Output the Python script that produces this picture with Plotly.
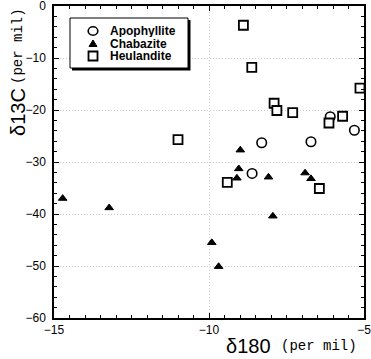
import plotly.graph_objects as go

# ---- data ----
apo_x = [-6.09, -5.31, -6.71, -8.30, -8.61]
apo_y = [-21.3, -23.9, -26.1, -26.3, -32.2]

cha_x = [-14.72, -13.22, -8.99, -9.04, -9.10, -8.08, -6.90, -6.71, -7.94, -9.91, -9.69]
cha_y = [-37.0, -38.8, -27.7, -31.3, -33.1, -32.9, -32.1, -33.2, -40.4, -45.5, -50.1]

heu_x = [-8.89, -8.62, -5.13, -7.90, -7.81, -7.30, -6.13, -5.69, -11.0, -9.41, -6.44]
heu_y = [-3.7, -11.8, -15.8, -18.7, -20.1, -20.5, -22.5, -21.2, -25.7, -33.9, -35.1]

names = ["Apophyllite", "Chabazite", "Heulandite"]
x_title = "δ180"
y_title = "δ13C"
unit = "(per mil)"

W, H = 371, 359
L, R, T, B = 54, 7, 6, 41
PW, PH = W - L - R, H - T - B


def px(xp):
    return (xp - L) / PW


def py(yp):
    return (H - B - yp) / PH


fig = go.Figure()
fig.add_trace(go.Scatter(x=apo_x, y=apo_y, mode="markers", name=names[0], showlegend=False,
                         marker=dict(symbol="circle", size=9.5, color="white",
                                     line=dict(color="black", width=1.6))))
fig.add_trace(go.Scatter(x=cha_x, y=cha_y, mode="markers", name=names[1], showlegend=False,
                         marker=dict(symbol="triangle-up", size=7.5, color="black",
                                     line=dict(color="black", width=1))))
fig.add_trace(go.Scatter(x=heu_x, y=heu_y, mode="markers", name=names[2], showlegend=False,
                         marker=dict(symbol="square", size=9, color="white",
                                     line=dict(color="black", width=1.8))))

axis_common = dict(
    showline=True, linecolor="black", linewidth=1.5, mirror="allticks",
    ticks="inside", ticklen=5, tickwidth=1, tickcolor="black",
    showgrid=True, gridcolor="#cfcfcf", griddash="1px,2px", gridwidth=1,
    zeroline=False, automargin=False, ticklabeloverflow="allow",
    tickfont=dict(family="Liberation Sans, Arial, sans-serif", size=12, color="black"),
)

fig.update_xaxes(range=[-15, -5], dtick=5, tick0=-15,
                 minor=dict(dtick=0.5, ticks="inside", ticklen=3, tickcolor="black", showgrid=False),
                 **axis_common)
fig.update_yaxes(range=[-60, 0], dtick=10, tick0=0,
                 minor=dict(dtick=2, ticks="inside", ticklen=3, tickcolor="black", showgrid=False),
                 ticklabelstandoff=4, **axis_common)

big_font = dict(family="Liberation Sans, Arial, sans-serif", size=20, color="black")
mono_font = dict(family="Liberation Mono, DejaVu Sans Mono, monospace", size=14, color="black")

annotations = [
    # x-axis title
    dict(xref="paper", yref="paper", x=px(273), y=py(346), xanchor="right", yanchor="middle",
         showarrow=False, text=x_title, font=big_font),
    dict(xref="paper", yref="paper", x=px(359), y=py(346), xanchor="right", yanchor="middle",
         showarrow=False, text=unit, font=mono_font),
    # y-axis title
    dict(xref="paper", yref="paper", x=px(18), y=py(112), xanchor="center", yanchor="middle",
         showarrow=False, textangle=-90, text=y_title, font=big_font),
    dict(xref="paper", yref="paper", x=px(18), y=py(6), xanchor="center", yanchor="top",
         showarrow=False, textangle=-90, text=unit, font=mono_font),
]

# manual legend (box with drop shadow, symbols, labels)
shapes = [
    dict(type="rect", xref="paper", yref="paper", x0=px(72), x1=px(190.5), y0=py(70.5), y1=py(20),
         fillcolor="black", line=dict(width=0), layer="above"),
    dict(type="rect", xref="paper", yref="paper", x0=px(70), x1=px(188), y0=py(68), y1=py(18),
         fillcolor="white", line=dict(color="black", width=1), layer="above"),
]
rows = [31, 43.5, 56]
sym_x = 93
shapes.append(dict(type="circle", xref="paper", yref="paper", xsizemode="pixel", ysizemode="pixel",
                   xanchor=px(sym_x), yanchor=py(rows[0]), x0=-4.8, x1=4.8, y0=-4.2, y1=4.2,
                   line=dict(color="black", width=1.6), fillcolor="white", layer="above"))
shapes.append(dict(type="path", xref="paper", yref="paper", xsizemode="pixel", ysizemode="pixel",
                   xanchor=px(sym_x), yanchor=py(rows[1]), path="M -4,-3 L 4,-3 L 0,3.5 Z",
                   line=dict(color="black", width=1), fillcolor="black", layer="above"))
shapes.append(dict(type="rect", xref="paper", yref="paper", xsizemode="pixel", ysizemode="pixel",
                   xanchor=px(sym_x), yanchor=py(rows[2]), x0=-4.5, x1=4.5, y0=-4.5, y1=4.5,
                   line=dict(color="black", width=1.8), fillcolor="white", layer="above"))

for name, r in zip(names, rows):
    annotations.append(dict(xref="paper", yref="paper", x=px(109), y=py(r), xanchor="left",
                            yanchor="middle", showarrow=False, text=f"<b>{name}</b>",
                            height=12, valign="middle", borderpad=0,
                            font=dict(family="Liberation Sans, Arial, sans-serif", size=12, color="black")))

fig.update_layout(
    width=W, height=H, margin=dict(l=L, r=R, t=T, b=B),
    paper_bgcolor="white", plot_bgcolor="white",
    showlegend=False, annotations=annotations, shapes=shapes,
)

fig.write_html("out.html", config={"displayModeBar": False},
               post_script="document.body.style.margin='0px';")
